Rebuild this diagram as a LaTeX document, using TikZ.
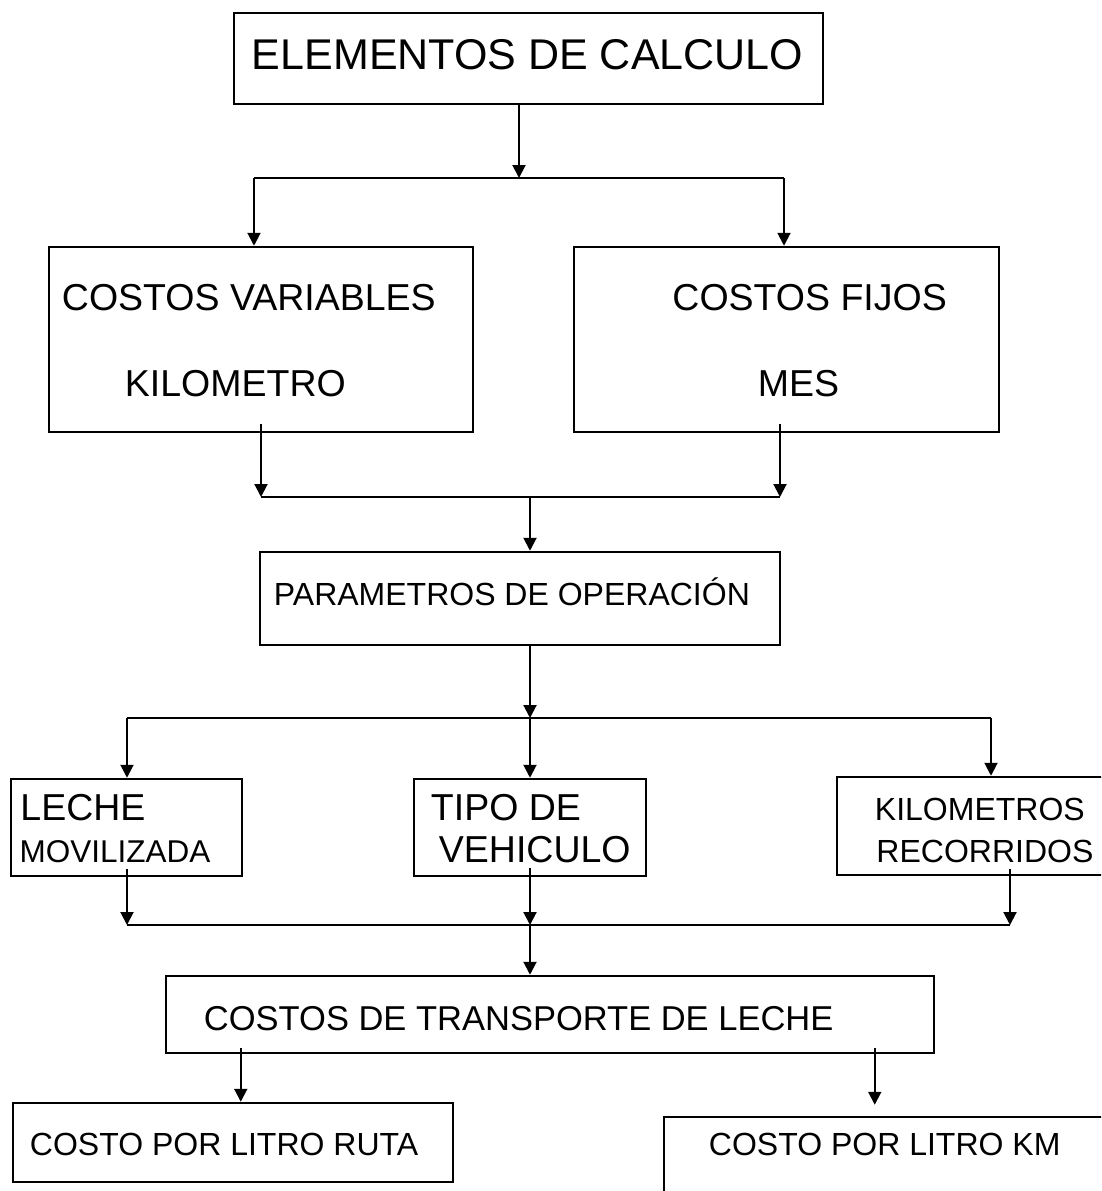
\documentclass[tikz,border=0pt]{standalone}
\usepackage{fontspec}
\setmainfont{Liberation Sans}
\usetikzlibrary{calc,arrows.meta}

\newcommand{\fsz}[1]{\fontsize{#1}{#1}\selectfont}

\tikzset{
  box/.style={draw,rectangle,line width=2.5pt,inner sep=0pt},
  txt/.style={anchor=base west,inner sep=0pt},
  link/.style={line width=2pt,-{Triangle[length=13pt,width=13pt]}},
  bar/.style={line width=2.5pt},
}

\begin{document}
\begin{tikzpicture}[x=1pt,y=-1pt]
\useasboundingbox (0,0) rectangle (1101,1191);
\clip (0,0) rectangle (1101,1191);

% boxes
\node[box,minimum width=589pt,minimum height=91pt] (top) at (528.5,58.5) {};
\node[box,minimum width=424pt,minimum height=185pt] (var) at (261,339.5) {};
\node[box,minimum width=425pt,minimum height=185pt] (fijo) at (786.5,339.5) {};
\node[box,minimum width=520pt,minimum height=93pt] (param) at (520,598.5) {};
\node[box,minimum width=231pt,minimum height=97pt] (leche) at (126.5,827.5) {};
\node[box,minimum width=232pt,minimum height=97pt] (tipo) at (530,827.5) {};
\node[box,minimum width=283pt,minimum height=98pt] (kmrec) at (978.5,826) {};
\node[box,minimum width=768pt,minimum height=77pt] (transp) at (550,1014.5) {};
\node[box,minimum width=440pt,minimum height=79pt] (ruta) at (233,1142.5) {};
\node[box,minimum width=466pt,minimum height=93pt] (kmlitro) at (897,1163.5) {};

% texts
\node[txt,font=\fsz{43}] (ttop) at ($(top.north west)+(19,58)$) {ELEMENTOS DE CALCULO};
\node[txt,font=\fsz{37.5}] (tvar1) at ($(var.north west)+(14,65)$) {COSTOS VARIABLES};
\node[txt,font=\fsz{37.5}] (tvar2) at ($(var.north west)+(77,151)$) {KILOMETRO};
\node[txt,font=\fsz{37.5}] (tfijo1) at ($(fijo.north west)+(99.5,64.7)$) {COSTOS FIJOS};
\node[txt,font=\fsz{37.5}] (tfijo2) at ($(fijo.north west)+(185,150.7)$) {MES};
\node[txt,font=\fsz{32}] (tparam) at ($(param.north west)+(15,54.7)$) {PARAMETROS DE OPERACIÓN};
\node[txt,font=\fsz{37.5}] (tleche1) at ($(leche.north west)+(10.5,43)$) {LECHE};
\node[txt,font=\fsz{31.5}] (tleche2) at ($(leche.north west)+(9.7,85)$) {MOVILIZADA};
\node[txt,font=\fsz{37.5}] (ttipo1) at ($(tipo.north west)+(18,43)$) {TIPO DE};
\node[txt,font=\fsz{37.5}] (ttipo2) at ($(tipo.north west)+(26,85)$) {VEHICULO};
\node[txt,font=\fsz{32}] (tkm1) at ($(kmrec.north west)+(39,45)$) {KILOMETROS};
\node[txt,font=\fsz{32}] (tkm2) at ($(kmrec.north west)+(40.5,87)$) {RECORRIDOS};
\node[txt,font=\fsz{34.5}] (ttransp) at ($(transp.north west)+(39,56)$) {COSTOS DE TRANSPORTE DE LECHE};
\node[txt,font=\fsz{32}] (truta) at ($(ruta.north west)+(18,54)$) {COSTO POR LITRO RUTA};
\node[txt,font=\fsz{32}] (tkmlitro) at ($(kmlitro.north west)+(46,40)$) {COSTO POR LITRO KM};

% first split
\coordinate (s1) at (519,178);
\coordinate (s1l) at (254,178);
\coordinate (s1r) at (784,178);
\draw[link] (top.south -| s1) -- (s1);
\draw[bar] (s1l) -- (s1r);
\draw[link] (s1l) -- (s1l |- var.north);
\draw[link] (s1r) -- (s1r |- fijo.north);

% first merge
\coordinate (m1l) at (261,497);
\coordinate (m1) at (530,497);
\coordinate (m1r) at (780,497);
\draw[link] ($(m1l |- var.south)-(0,9)$) -- (m1l);
\draw[link] ($(m1r |- fijo.south)-(0,9)$) -- (m1r);
\draw[bar] (m1l) -- (m1r);
\draw[link] (m1) -- (m1 |- param.north);

% second split
\coordinate (s2l) at (127,718);
\coordinate (s2) at (530,718);
\coordinate (s2r) at (991,718);
\draw[link] (param.south -| s2) -- (s2);
\draw[bar] (s2l) -- (s2r);
\draw[link] (s2l) -- (s2l |- leche.north);
\draw[link] (s2) -- (tipo.north);
\draw[link] (s2r) -- (s2r |- kmrec.north);

% second merge
\coordinate (m2l) at (127,925);
\coordinate (m2) at (530,925);
\coordinate (m2r) at (1010,925);
\draw[link] ($(m2l |- leche.south)-(0,8)$) -- (m2l);
\draw[link] ($(tipo.south)-(0,9)$) -- (m2);
\draw[link] ($(m2r |- kmrec.south)-(0,7)$) -- (m2r);
\draw[bar] (m2l) -- (m2r);
\draw[link] (m2) -- (m2 |- transp.north);

% outputs
\draw[link] ($(transp.south west)+(76,-6)$) coordinate (ol) -- (ol |- ruta.north);
\draw[link] ($(transp.south west)+(710,-6)$) coordinate (or) -- ($(or |- kmlitro.north)-(0,11)$);

\end{tikzpicture}
\end{document}
